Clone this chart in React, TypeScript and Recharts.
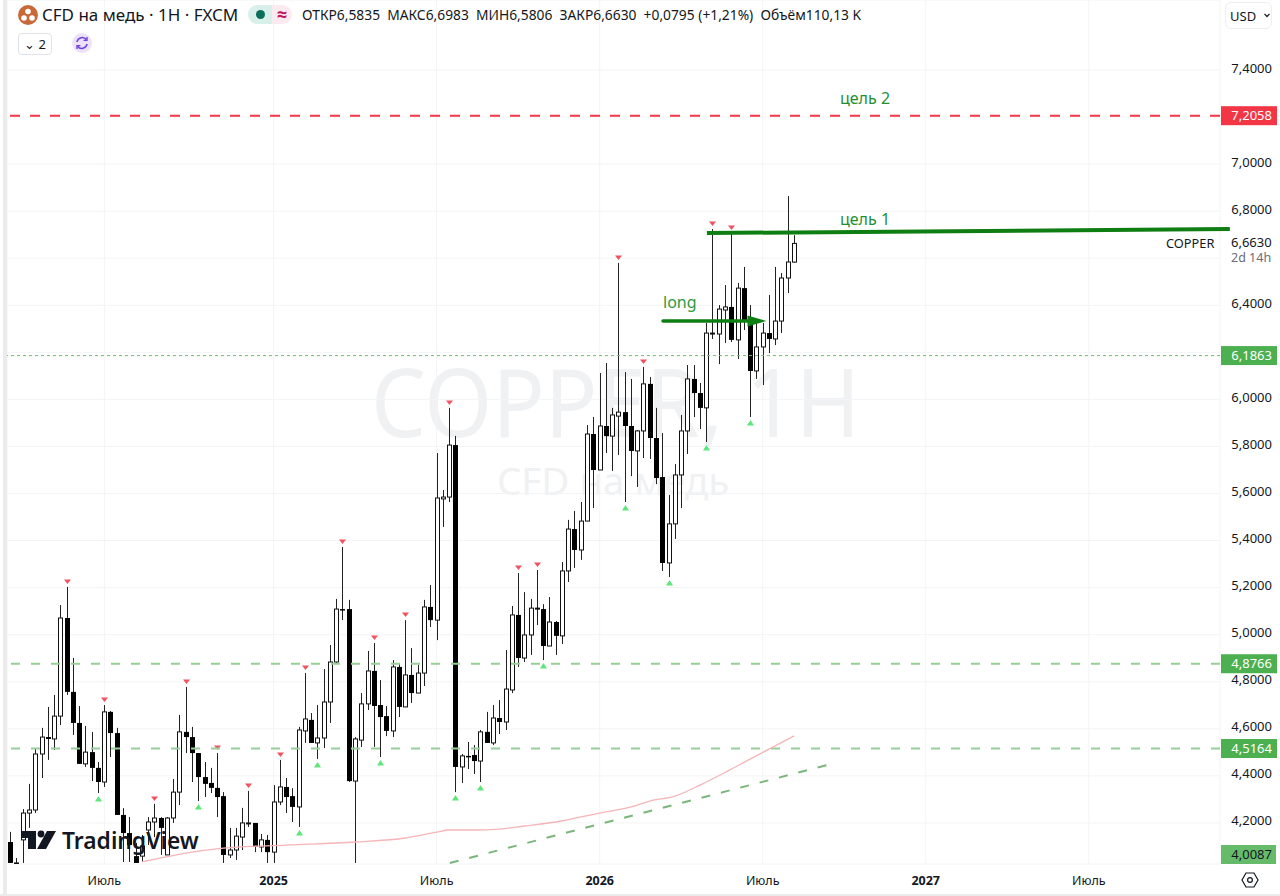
import React from "react";
import { ComposedChart, Bar, Line, XAxis, YAxis, CartesianGrid, ReferenceLine } from "recharts";

const opens = [4.119,4.03,4.128,4.242,4.255,4.493,4.565,4.557,4.654,5.071,4.757,4.625,4.451,4.501,4.434,4.374,4.672,4.582,4.234,4.157,4.059,4.059,4.170,4.204,4.221,4.064,4.221,4.331,4.587,4.565,4.497,4.395,4.370,4.349,4.314,4.064,4.085,4.140,4.196,4.200,4.098,4.128,4.076,4.289,4.353,4.314,4.268,4.591,4.638,4.540,4.561,4.714,4.884,5.109,5.109,4.378,4.552,4.706,4.846,4.701,4.654,4.591,4.863,4.693,4.829,4.752,4.837,5.118,5.062,5.577,5.585,5.806,4.438,4.485,4.489,4.463,4.587,4.540,4.646,4.629,4.765,5.084,4.901,4.999,5.109,5.109,4.952,5.054,4.995,5.271,5.449,5.360,5.483,5.853,5.700,5.887,5.844,5.929,5.946,5.887,5.781,5.866,6.066,5.836,5.670,5.305,5.471,5.679,5.866,6.087,6.027,5.964,6.278,6.278,6.380,6.393,6.253,6.473,6.329,6.121,6.223,6.282,6.257,6.333,6.516,6.5835];
const highs = [4.162,4.051,4.259,4.366,4.518,4.604,4.693,4.744,5.126,5.203,4.901,4.697,4.612,4.587,4.459,4.701,4.676,4.604,4.263,4.225,4.115,4.149,4.225,4.281,4.225,4.225,4.387,4.659,4.778,4.608,4.497,4.459,4.434,4.497,4.331,4.179,4.179,4.264,4.336,4.200,4.153,4.149,4.361,4.468,4.391,4.348,4.608,4.837,4.667,4.701,4.854,4.956,5.152,5.373,5.148,4.565,4.752,4.931,4.965,4.807,4.697,4.892,4.880,5.062,4.943,4.871,5.148,5.211,5.772,5.615,5.964,5.845,4.493,4.544,4.531,4.595,4.672,4.701,4.722,4.935,5.122,5.262,5.181,5.152,5.275,5.130,5.160,5.058,5.309,5.488,5.526,5.564,5.891,5.925,6.112,6.155,5.964,6.580,6.116,6.087,5.870,6.138,6.095,5.964,5.857,5.594,5.725,5.934,6.146,6.146,6.070,6.325,6.724,6.401,6.486,6.707,6.495,6.563,6.401,6.325,6.325,6.444,6.563,6.537,6.864,6.6983];
const lows = [4.03,4.03,4.03,4.179,4.242,4.391,4.468,4.510,4.616,4.744,4.574,4.451,4.438,4.378,4.327,4.353,4.480,4.234,4.034,4.034,4.03,4.034,4.106,4.140,4.064,4.064,4.200,4.276,4.497,4.374,4.293,4.310,4.327,4.225,4.03,4.051,4.043,4.085,4.183,4.076,4.076,4.03,4.03,4.276,4.242,4.204,4.183,4.540,4.540,4.472,4.518,4.625,4.880,5.062,4.374,4.03,4.523,4.680,4.523,4.480,4.569,4.565,4.650,4.693,4.710,4.752,4.782,5.033,4.977,5.458,5.564,4.331,4.370,4.429,4.408,4.374,4.540,4.531,4.578,4.595,4.752,4.863,4.884,4.914,5.041,4.892,4.952,4.914,4.961,5.224,5.284,5.318,5.483,5.538,5.700,5.772,5.696,5.764,5.564,5.674,5.628,5.751,5.747,5.640,5.271,5.245,5.407,5.538,5.768,5.925,5.874,5.819,6.257,6.150,6.240,6.244,6.172,6.295,5.925,6.087,6.061,6.197,6.231,6.282,6.452,6.5806];
const closes = [4.03,4.03,4.242,4.255,4.493,4.565,4.557,4.654,5.071,4.757,4.625,4.451,4.501,4.434,4.374,4.672,4.582,4.234,4.157,4.106,4.03,4.102,4.204,4.221,4.179,4.221,4.331,4.587,4.565,4.497,4.395,4.366,4.349,4.310,4.064,4.085,4.144,4.200,4.200,4.098,4.128,4.076,4.289,4.353,4.310,4.268,4.595,4.642,4.540,4.561,4.714,4.884,5.109,5.107,4.378,4.557,4.706,4.846,4.697,4.650,4.591,4.863,4.693,4.829,4.752,4.837,5.118,5.062,5.581,5.585,5.806,4.438,4.485,4.483,4.463,4.587,4.540,4.646,4.629,4.769,5.084,4.901,4.999,5.113,5.113,4.952,5.054,4.995,5.271,5.449,5.360,5.483,5.853,5.700,5.887,5.844,5.934,5.946,5.887,5.781,5.866,6.066,5.836,5.666,5.305,5.471,5.679,5.866,6.087,6.027,5.964,6.282,6.282,6.384,6.393,6.253,6.473,6.329,6.121,6.223,6.282,6.257,6.333,6.516,6.584,6.663];

const downMarks = [9,15,23,28,33,38,43,47,53,58,63,70,81,84,97,101,112,115];
const upMarks = [14,30,46,49,59,71,75,85,98,105,111,118];

const maIndex = [21,28,34,44,55,63,68,70,74,78,82,87,94,99,102,106,110,115,121,125];
const maValues = [4.034,4.072,4.093,4.106,4.119,4.136,4.161,4.170,4.170,4.174,4.187,4.204,4.242,4.268,4.293,4.314,4.361,4.429,4.514,4.570];

const priceTicks = [7.4,7.2,7,6.8,6.6,6.4,6.2,6,5.8,5.6,5.4,5.2,5,4.8,4.6,4.4,4.2];
const hiddenPriceTicks = [7.2,6.6,6.2];
const timeTicks = [15,42,68,94,120,146,172];
const timeLabels = ["Июль","2025","Июль","2026","Июль","2027","Июль"];

const data = opens.map((open, i) => ({
  i,
  open,
  high: highs[i],
  low: lows[i],
  close: closes[i],
  ma: maIndex.includes(i) ? maValues[maIndex.indexOf(i)] : null,
}));

const font = '"Noto Sans", "Open Sans", sans-serif';

function Candle(props: any) {
  const { x, y, width, height, payload } = props;
  const { i, open, high, low, close } = payload;
  const k = height / (high - low);
  const cx = Math.floor(x + width / 2) + 0.5;
  const top = y + (high - Math.max(open, close)) * k;
  const bottom = y + (high - Math.min(open, close)) * k;
  const up = close >= open;
  return (
    <g>
      <line x1={cx} x2={cx} y1={y} y2={y + height} stroke="#222" strokeWidth={1} />
      {up ? (
        <rect x={cx - 2} y={top} width={4} height={Math.max(bottom - top, 1)} fill="#fff" stroke="#111" strokeWidth={1} />
      ) : (
        <rect x={cx - 2.5} y={top} width={5} height={Math.max(bottom - top, 1.5)} fill="#000" />
      )}
      {downMarks.includes(i) && (
        <polygon points={`${cx - 3.5},${y - 7.5} ${cx + 3.5},${y - 7.5} ${cx},${y - 3}`} fill="#f0525f" />
      )}
      {upMarks.includes(i) && (
        <polygon points={`${cx - 3.5},${y + height + 8.5} ${cx + 3.5},${y + height + 8.5} ${cx},${y + height + 3}`} fill="#5ee67c" />
      )}
    </g>
  );
}

function PriceTick(props: any) {
  const { x, y, payload } = props;
  if (hiddenPriceTicks.includes(payload.value)) return null;
  return (
    <text x={x + 44} y={y + 2.5} textAnchor="end" fontSize={13} fontFamily={font} fill="#131722">
      {payload.value.toFixed(4).replace(".", ",")}
    </text>
  );
}

function TimeTick(props: any) {
  const { x, y, payload } = props;
  const label = timeLabels[timeTicks.indexOf(payload.value)];
  const bold = label.startsWith("20");
  return (
    <text x={x} y={y + 13} textAnchor="middle" fontSize={12.5} fontWeight={bold ? 700 : 400} fontFamily={font} fill="#131722">
      {label}
    </text>
  );
}

function PriceTag(props: any) {
  const { viewBox, text, fill } = props;
  const x = viewBox.x + viewBox.width + 1;
  const y = viewBox.y;
  return (
    <g>
      <rect x={x} y={y - 9.5} width={56} height={19} fill={fill} />
      <text x={x + 51} y={y + 4.5} textAnchor="end" fontSize={13} fontFamily={font} fill="#fff">
        {text}
      </text>
    </g>
  );
}

function LongArrow(props: any) {
  const { x1, y1, x2, y2 } = props;
  return (
    <g>
      <line x1={x1} y1={y1} x2={x2 - 15} y2={y2} stroke="#0e7d12" strokeWidth={3.5} strokeLinecap="round" />
      <polygon points={`${x2 - 19},${y2 - 5.5} ${x2},${y2} ${x2 - 19},${y2 + 5.5}`} fill="#0e7d12" />
    </g>
  );
}

function abs(left: number, top: number, extra: React.CSSProperties = {}): React.CSSProperties {
  return { position: "absolute", left, top, whiteSpace: "pre", fontFamily: font, ...extra };
}

export default function App() {
  return (
    <div style={{ position: "absolute", left: 0, top: 0, width: 1280, height: 896, background: "#fff", overflow: "hidden" }}>
      <div style={abs(371, 350, { fontSize: 87, color: "#f0f1f3", lineHeight: "100px", transform: "scaleY(1.1)" })}>COPPER, 1H</div>
      <div style={abs(497, 458, { fontSize: 38.5, color: "#f0f1f3", lineHeight: "44px" })}>CFD на медь</div>

      <div style={{ position: "absolute", left: 0, top: 0 }}>
        <ComposedChart width={1280} height={896} data={data} margin={{ top: 0, right: 0, bottom: 0, left: 7 }}>
          <CartesianGrid stroke="#f3f4f6" strokeWidth={1} />
          <XAxis
            dataKey="i"
            type="number"
            domain={[-0.526, 192.93]}
            allowDataOverflow
            ticks={timeTicks}
            interval={0}
            height={32}
            axisLine={false}
            tickLine={false}
            tick={<TimeTick />}
          />
          <YAxis
            orientation="right"
            type="number"
            domain={[4.0255, 7.6975]}
            allowDataOverflow
            ticks={priceTicks}
            interval={0}
            width={60}
            axisLine={false}
            tickLine={false}
            tick={<PriceTick />}
          />
          <ReferenceLine y={7.2058} stroke="#f23645" strokeWidth={2} strokeDasharray="10 10" label={<PriceTag text="7,2058" fill="#f23645" />} />
          <ReferenceLine y={6.1863} stroke="#6fc06f" strokeWidth={1} strokeDasharray="3 3" label={<PriceTag text="6,1863" fill="#4caf50" />} />
          <ReferenceLine y={4.8766} stroke="#97d097" strokeWidth={2} strokeDasharray="9 11" label={<PriceTag text="4,8766" fill="#4caf50" />} />
          <ReferenceLine y={4.5164} stroke="#97d097" strokeWidth={2} strokeDasharray="9 11" label={<PriceTag text="4,5164" fill="#4caf50" />} />
          <Line dataKey="ma" type="monotone" stroke="#f5b5b8" strokeWidth={1.3} dot={false} connectNulls isAnimationActive={false} />
          <Bar dataKey={(d: any) => [d.low, d.high]} barSize={5} shape={<Candle />} isAnimationActive={false} />
          <ReferenceLine
            ifOverflow="visible"
            segment={[{ x: 70.1, y: 4.03 }, { x: 130.3, y: 4.446 }]}
            stroke="#79b679"
            strokeWidth={2}
            strokeDasharray="9 11"
          />
          <ReferenceLine
            ifOverflow="visible"
            segment={[{ x: 111.1, y: 6.707 }, { x: 194.5, y: 6.724 }]}
            stroke="#0e7d12"
            strokeWidth={4}
          />
          <ReferenceLine
            ifOverflow="visible"
            segment={[{ x: 104.1, y: 6.333 }, { x: 120.6, y: 6.333 }]}
            shape={<LongArrow />}
          />
        </ComposedChart>
      </div>

      {/* legend */}
      <svg style={{ position: "absolute", left: 17, top: 4 }} width={22} height={22}>
        <circle cx={11} cy={11} r={10} fill="#c8693a" />
        <circle cx={11} cy={7.5} r={2.8} fill="#fff" />
        <circle cx={7} cy={14} r={2.8} fill="#fff" />
        <circle cx={15} cy={14} r={2.8} fill="#fff" />
      </svg>
      <div style={abs(42, 5, { fontSize: 17, color: "#131722", lineHeight: "20px" })}>CFD на медь · 1H · FXCM</div>
      <div style={abs(248, 5, { width: 24, height: 19, borderRadius: "10px 0 0 10px", background: "#d9efe9" })} />
      <div style={abs(256, 10, { width: 9, height: 9, borderRadius: 5, background: "#0b6e5c" })} />
      <div style={abs(272, 5, { width: 20, height: 19, borderRadius: "0 10px 10px 0", background: "#fbeaf0", textAlign: "center", fontSize: 18, lineHeight: "18px", color: "#c2185b", fontWeight: 700 })}>≈</div>
      <div style={abs(302, 6, { fontSize: 13.8, color: "#131722", lineHeight: "18px" })}>
        {"ОТКР6,5835  МАКС6,6983  МИН6,5806  ЗАКР6,6630  +0,0795 (+1,21%)  Объём110,13 K"}
      </div>
      <div style={abs(18, 33, { width: 34, height: 22, border: "1px solid #e0e3eb", borderRadius: 4, fontSize: 13, lineHeight: "20px", color: "#131722", textAlign: "center", boxSizing: "border-box" })}>⌄ 2</div>
      <svg style={{ position: "absolute", left: 72, top: 33 }} width={20} height={20}>
        <circle cx={10} cy={10} r={10} fill="#ece3fb" />
        <path d="M5 9a5.2 5.2 0 0 1 9.4-2.2 M15 11a5.2 5.2 0 0 1-9.4 2.2" fill="none" stroke="#6f42e0" strokeWidth={1.6} />
        <path d="M15 4v3.4h-3.4 M5 16v-3.4h3.4" fill="none" stroke="#6f42e0" strokeWidth={1.4} />
      </svg>

      {/* right scale extras */}
      <div style={abs(1225, 2, { width: 47, height: 27, border: "1px solid #eceef2", borderRadius: 6, boxSizing: "border-box", fontSize: 13, lineHeight: "26px", paddingLeft: 4, color: "#131722" })}>USD</div>
      <svg style={{ position: "absolute", left: 1264, top: 13 }} width={6} height={5}>
        <path d="M0.5 0.8 L3 3.5 L5.5 0.8" fill="none" stroke="#131722" strokeWidth={1.2} />
      </svg>
      <div style={abs(1166, 234, { fontSize: 12.8, color: "#131722", lineHeight: "18px" })}>COPPER</div>
      <div style={abs(1231, 233, { fontSize: 13, color: "#131722", lineHeight: "18px" })}>6,6630</div>
      <div style={abs(1231, 249, { fontSize: 12.5, color: "#6a6d78", lineHeight: "18px" })}>2d 14h</div>
      <div style={abs(1221, 845, { width: 55, height: 19, background: "#66bb6a", color: "#131722", fontSize: 13, lineHeight: "19px", textAlign: "right", paddingRight: 4, boxSizing: "border-box" })}>4,0087</div>
      <svg style={{ position: "absolute", left: 1241, top: 871 }} width={18} height={18}>
        <path d="M5 2 H13 L17 9 L13 16 H5 L1 9 Z" fill="none" stroke="#131722" strokeWidth={1.2} />
        <circle cx={9} cy={9} r={2.4} fill="none" stroke="#131722" strokeWidth={1.2} />
      </svg>

      {/* drawings text */}
      <div style={abs(840, 88, { fontSize: 16, color: "#1f8f32", lineHeight: "20px" })}>цель 2</div>
      <div style={abs(840, 209, { fontSize: 16, color: "#1f8f32", lineHeight: "20px" })}>цель 1</div>
      <div style={abs(663, 292, { fontSize: 16, color: "#2e9a42", lineHeight: "20px" })}>long</div>

      {/* logo */}
      <svg style={{ position: "absolute", left: 20, top: 830 }} width={38} height={20}>
        <path d="M1 1 H16 V19 H8 V8 H1 Z" fill="#131722" />
        <circle cx={21} cy={4} r={3.4} fill="#131722" />
        <path d="M27 1 H36 L26 19 H17 Z" fill="#131722" />
      </svg>
      <div style={abs(62, 825, { fontSize: 22.8, fontWeight: 600, color: "#131722", lineHeight: "32px" })}>TradingView</div>

      {/* window frame */}
      <div style={{ position: "absolute", left: 3, top: 0, width: 4, height: 896, background: "#ebebeb" }} />
      <div style={{ position: "absolute", left: 0, top: 894, width: 1280, height: 2, background: "#ebebeb" }} />
    </div>
  );
}
